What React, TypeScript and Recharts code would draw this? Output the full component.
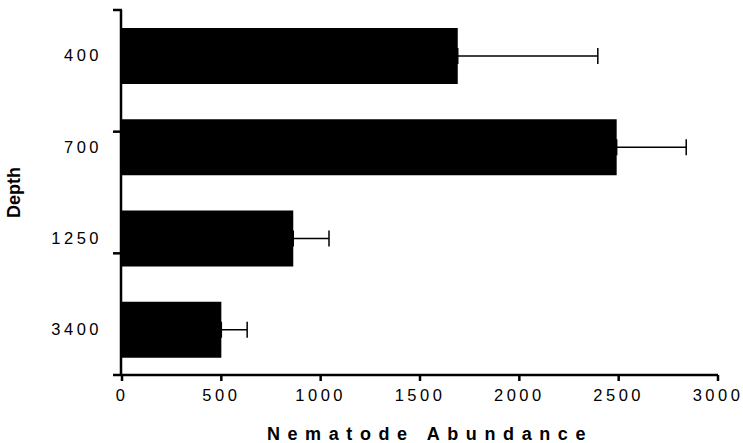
import React from 'react';
import { BarChart, Bar, XAxis, YAxis, ErrorBar, Label } from 'recharts';

// depth categories (m) and mean abundance with one-sided error
const depths = ['400', '700', '1250', '3400'];
const abundance = [1690, 2490, 862, 500];
const errors = [705, 350, 180, 130];
const xTicks = [0, 500, 1000, 1500, 2000, 2500, 3000];

const data = depths.map((d, i) => ({
  depth: d,
  value: abundance[i],
  err: [0, errors[i]],
}));

const font = '"Liberation Sans", Arial, sans-serif';
const tickStyle = { fill: '#000', fontSize: 16.5, fontFamily: font, letterSpacing: 3.5 };

export default function App() {
  return (
    <div style={{ position: 'absolute', left: 0, top: 0, background: '#fff' }}>
      <BarChart
        width={743}
        height={443}
        data={data}
        layout="vertical"
        margin={{ top: 10, right: 25, bottom: 0, left: 0 }}
        barSize={56}
      >
        <XAxis
          type="number"
          domain={[0, 3000]}
          ticks={xTicks}
          axisLine={{ stroke: '#000', strokeWidth: 2.5 }}
          tickLine={{ stroke: '#000', strokeWidth: 2.5 }}
          tickSize={6}
          tickMargin={8}
          tick={tickStyle}
          height={68}
        >
          <Label
            value="Nematode Abundance"
            position="insideBottom"
            offset={3}
            dx={10}
            style={{ fill: '#000', fontSize: 18, fontWeight: 'bold', fontFamily: font, letterSpacing: 7.6 }}
          />
        </XAxis>
        {/* tick marks between depth bands */}
        <YAxis
          yAxisId="bounds"
          type="number"
          domain={[0, 4]}
          ticks={[0, 1, 2, 3, 4]}
          axisLine={false}
          tick={() => <g />}
          tickLine={{ stroke: '#000', strokeWidth: 2.5 }}
          tickSize={9}
          width={1}
        />
        <YAxis
          yAxisId="cat"
          type="category"
          dataKey="depth"
          axisLine={{ stroke: '#000', strokeWidth: 2.5 }}
          tickLine={false}
          tickSize={6}
          tickMargin={13}
          tick={tickStyle}
          width={121}
        >
          <Label
            value="Depth"
            angle={-90}
            position="insideLeft"
            offset={14}
            style={{ fill: '#000', fontSize: 18, fontWeight: 'bold', fontFamily: font, textAnchor: 'middle' }}
          />
        </YAxis>
        <Bar yAxisId="cat" dataKey="value" fill="#000" isAnimationActive={false}>
          <ErrorBar dataKey="err" direction="x" width={8} stroke="#000" strokeWidth={1.5} />
        </Bar>
      </BarChart>
    </div>
  );
}
